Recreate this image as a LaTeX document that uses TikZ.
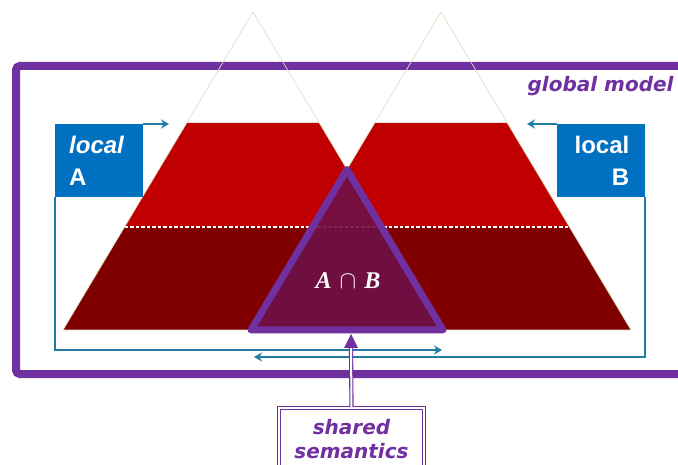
\documentclass[tikz,border=0pt]{standalone}
\usepackage{fontspec}
\newfontfamily\lblfont{Liberation Sans}
\newfontfamily\verdfont{DejaVu Sans}
\newfontfamily\setfont{Liberation Serif}
\usetikzlibrary{arrows.meta}

\definecolor{frameP}{RGB}{112,48,160}
\definecolor{boxB}{RGB}{0,112,192}
\definecolor{linkB}{RGB}{35,122,162}
\definecolor{redT}{RGB}{192,0,0}
\definecolor{redB}{RGB}{128,0,0}
\definecolor{shareF}{RGB}{110,16,72}
\definecolor{edgeG}{RGB}{222,228,196}

\tikzset{
  pyredge/.style={draw=edgeG, line width=0.7pt, line join=miter},
  localbox/.style={fill=boxB, text=white, font=\lblfont\bfseries\fontsize{24}{32}\selectfont,
    minimum width=88pt, minimum height=73pt, inner ysep=0pt},
  link/.style={draw=linkB, line width=1.5pt, -{Stealth[length=8pt,width=9pt]}},
  semtext/.style={text=frameP, font=\verdfont\bfseries\itshape\fontsize{20}{24}\selectfont},
  semline/.style={draw=frameP, double=white, double distance=2pt, line width=1.1pt},
}

\begin{document}
\begin{tikzpicture}[x=1pt,y=-1pt]
\useasboundingbox (0,0) rectangle (678,465);
\clip (0,0) rectangle (678,465);
\fill[white] (0,0) rectangle (678,465);

% global model frame, open to the right
\draw[frameP, line width=8pt, rounded corners=4pt] (700,66) -- (16,66) -- (16,374) -- (700,374);
\node[semtext, anchor=base east] (gm) at (677,92) {global model};

% pyramid corners
\coordinate (LA) at (253,12);  \coordinate (LL) at (63,330);  \coordinate (LR) at (443,330);
\coordinate (RA) at (441,12);  \coordinate (RL) at (251,330); \coordinate (RR) at (631,330);

% upper (light) and lower (dark) bands of both pyramids
\fill[redT] (186.7,123) -- (124.5,227) -- (381.5,227) -- (319.3,123) -- cycle;
\fill[redT] (374.7,123) -- (312.5,227) -- (569.5,227) -- (507.3,123) -- cycle;
\fill[redB] (124.5,227) -- (63,330) -- (443,330) -- (381.5,227) -- cycle;
\fill[redB] (312.5,227) -- (251,330) -- (631,330) -- (569.5,227) -- cycle;

% pyramid outlines
\draw[pyredge] (LA) -- (LL) -- (LR) -- cycle;
\draw[pyredge] (RA) -- (RL) -- (RR) -- cycle;

% boundary between the two bands
\draw[white, line width=1.6pt, dash pattern=on 3.5pt off 2pt] (124.5,227) -- (569.5,227);

% shared part A ∩ B
\draw[frameP, line width=7pt, line join=round, fill=shareF, fill opacity=0.9]
  (347,169.5) -- (251,330) -- (443,330) -- cycle;
\node[text=white, font=\setfont\bfseries\itshape\fontsize{24}{28}\selectfont] (ab) at (348,281)
  {A\hspace{8pt}{\normalfont\fontsize{24}{28}\selectfont$\cap$}\hspace{8pt}B};
\coordinate (abbase) at (351,334);

% local models
\node[localbox, anchor=north west, align=left, text width=60pt, inner xsep=14pt] (la) at (55,124)
  {{\itshape local}\\A};
\node[localbox, anchor=north east, align=right, text width=57pt, inner xsep=15pt] (lb) at (645,124)
  {local\\B};

\coordinate (topA) at (169,124);
\coordinate (topB) at (527,124);
\coordinate (botA) at (442,350);
\coordinate (botB) at (254,357);
\draw[link] (la.north east) -- (topA);
\draw[link] (lb.north west) -- (topB);
\draw[link] (la.south west) |- (botA);
\draw[link] (lb.south east) |- (botB);

% shared semantics label
\node[semtext, semline, anchor=north, minimum width=145pt, minimum height=62pt, align=center,
  inner sep=0pt] (ss) at (351.5,407.2) {shared\\semantics};
\coordinate (stem) at (351,346);
\draw[semline] (ss.north) -- (stem);
\fill[frameP] (abbase) -- (344,348) -- (358,348) -- cycle;
\end{tikzpicture}
\end{document}
